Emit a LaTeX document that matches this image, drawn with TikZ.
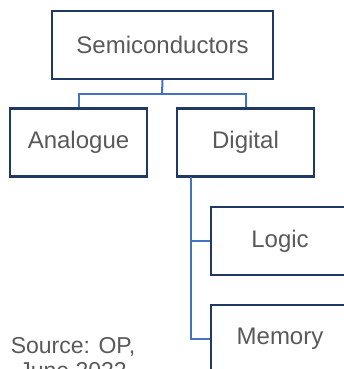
\documentclass[tikz,border=0pt]{standalone}
\usepackage{fontspec}
\setmainfont{Liberation Sans}
\definecolor{boxline}{HTML}{203864}
\definecolor{conline}{HTML}{4472C4}
\definecolor{txt}{HTML}{595959}
\begin{document}
\begin{tikzpicture}[x=1pt,y=-1pt,
  box/.style={draw=boxline,line width=2.4pt,minimum width=137pt,minimum height=68pt,inner sep=0pt,text=txt,font=\fontsize{24}{25}\selectfont},
  con/.style={draw=conline,line width=2pt}]
\useasboundingbox (0,0) rectangle (344,369);
\clip (0,0) rectangle (344,369);
\node[box,minimum width=221pt] (semi) at (162.5,45) {Semiconductors};
\node[box] (ana) at (78.5,142.5) {Analogue};
\node[box] (dig) at (245.5,142.5) {Digital};
\node[box,minimum width=138pt] (logic) at (280,241) {Logic};
\node[box,minimum width=138pt] (mem) at (280,339) {Memory};
\coordinate (split) at (162,94);
\coordinate (trunk) at (191,177);
\draw[con] (semi.south) -- (split);
\draw[con] (split) -| (ana.north);
\draw[con] (split) -| (dig.north);
\draw[con] (trunk) |- (logic.west);
\draw[con] (trunk) |- (mem.west);
\node[text=txt,font=\fontsize{23}{25}\selectfont,align=center,anchor=north,inner sep=0pt] (src) at (73,337) {Source: OP,\\June 2022};
\end{tikzpicture}
\end{document}
